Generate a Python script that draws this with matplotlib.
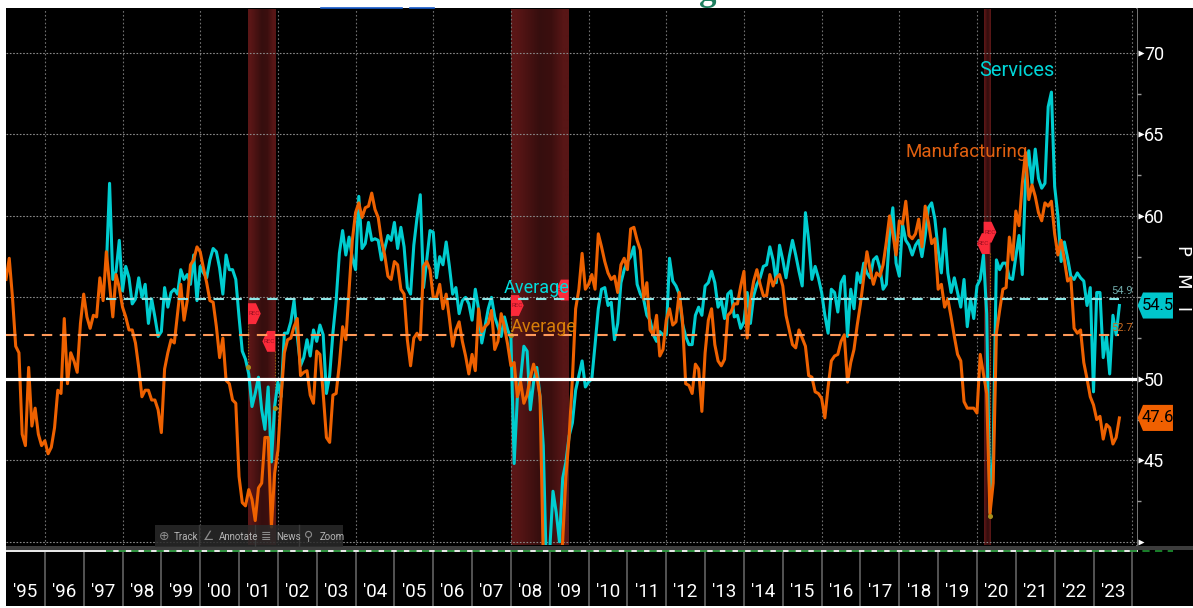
import numpy as np
import matplotlib
matplotlib.use('Agg')
import matplotlib.pyplot as plt
from matplotlib.patches import Polygon, Rectangle
from matplotlib.transforms import blended_transform_factory

plt.rcParams['font.family'] = ['Roboto', 'DejaVu Sans']

# monthly readings, month end, Jan 1995 - Aug 2023
mfg = [
    57.4, 55.0, 52.0, 51.6, 46.6, 45.9, 50.7, 47.1, 48.2, 46.6, 45.9, 46.2,  # 95
    45.4, 45.8, 47.0, 49.3, 49.1, 53.7, 49.7, 51.6, 51.1, 50.4, 53.4, 55.2,
    53.8, 53.1, 53.9, 53.8, 56.2, 54.8, 57.8, 55.8, 53.8, 56.4, 55.6, 54.4,
    53.8, 53.0, 53.0, 52.2, 50.7, 48.9, 49.3, 49.3, 48.7, 48.7, 48.1, 46.7,
    50.6, 51.6, 52.4, 52.2, 54.0, 55.8, 53.6, 54.8, 57.0, 57.3, 58.1, 57.8,
    56.8, 55.9, 54.8, 54.7, 53.2, 51.3, 52.5, 49.9, 49.7, 48.7, 48.5, 44.0,  # 00
    42.4, 42.2, 43.2, 42.6, 41.3, 43.3, 43.6, 46.4, 46.4, 40.9, 44.2, 45.6,
    48.9, 51.6, 52.4, 52.5, 53.2, 53.7, 50.2, 50.4, 50.5, 49.0, 48.5, 51.7,
    51.5, 49.1, 46.4, 46.1, 49.0, 49.1, 50.9, 53.2, 52.4, 55.4, 58.5, 60.2,
    60.8, 59.9, 60.5, 60.6, 61.4, 60.4, 59.9, 58.5, 57.6, 56.3, 56.1, 57.2,
    57.0, 55.5, 55.2, 52.4, 50.8, 52.5, 52.8, 52.4, 56.9, 57.2, 56.7, 55.0,  # 05
    55.0, 55.8, 54.3, 55.2, 53.7, 52.0, 53.0, 53.5, 52.3, 51.4, 50.3, 51.5,
    50.5, 54.3, 52.9, 53.2, 53.4, 54.2, 51.8, 52.3, 54.0, 53.2, 52.1, 50.8,
    51.0, 48.9, 49.8, 48.5, 49.0, 50.1, 50.9, 50.2, 48.9, 39.0, 37.5, 34.0,
    35.0, 36.0, 36.5, 40.1, 44.0, 46.5, 50.0, 54.3, 55.5, 57.7, 55.5, 55.8,
    56.4, 55.5, 58.9, 58.1, 57.2, 56.5, 56.1, 56.3, 55.3, 57.0, 57.4, 56.7,  # 10
    59.2, 59.3, 58.5, 57.9, 54.9, 55.9, 53.0, 52.7, 53.9, 51.4, 51.8, 53.6,
    54.3, 53.3, 53.5, 55.3, 53.6, 49.7, 49.6, 49.1, 50.9, 50.6, 48.0, 51.6,
    53.6, 54.3, 52.1, 51.1, 50.8, 51.2, 53.9, 54.1, 54.6, 54.6, 55.7, 56.6,
    52.5, 54.8, 56.0, 56.7, 55.8, 55.1, 55.1, 56.4, 55.7, 56.2, 56.4, 55.7,
    53.9, 53.0, 52.1, 51.9, 53.0, 52.5, 52.0, 50.2, 50.1, 49.2, 49.1, 48.8,  # 15
    47.6, 49.5, 51.1, 51.4, 51.5, 52.3, 52.7, 49.8, 51.0, 51.8, 53.3, 54.6,
    56.2, 57.8, 56.7, 55.8, 56.5, 56.3, 57.0, 58.4, 60.0, 58.9, 57.6, 59.7,
    59.5, 60.9, 58.8, 58.6, 58.9, 59.8, 58.1, 60.6, 59.6, 58.3, 58.6, 55.5,
    55.8, 54.4, 54.9, 53.8, 52.6, 51.5, 51.1, 48.6, 48.2, 48.2, 48.2, 47.9,
    51.5, 50.3, 49.1, 41.7, 43.6, 52.8, 54.2, 55.5, 55.6, 58.7, 57.3, 60.3,  # 20
    59.4, 62.0, 63.9, 61.0, 61.9, 61.2, 60.2, 59.7, 60.8, 60.6, 60.9, 58.9,
    57.6, 58.5, 57.3, 56.0, 56.2, 53.1, 52.8, 53.0, 51.0, 50.0, 48.9, 48.4,
    47.5, 47.7, 46.3, 47.2, 47.0, 46.0, 46.4, 47.6,
]
mfg_dec94 = 56.1

# services only starts Jul 1997
svc = [
    56.8, 62.0, 56.1, 56.6, 58.5, 55.4,
    56.9, 56.2, 54.6, 54.9, 56.2, 55.0, 55.8, 53.4, 54.9, 53.8, 52.6, 52.9,
    55.6, 54.4, 55.3, 55.5, 55.2, 56.7, 56.1, 56.4, 55.8, 57.6, 54.8, 56.9,
    56.5, 56.2, 57.3, 58.0, 57.8, 56.8, 55.2, 57.6, 56.7, 56.7, 56.1, 53.8,  # 00
    51.7, 51.2, 50.3, 48.3, 49.1, 50.1, 48.1, 46.9, 49.5, 44.9, 48.3, 49.8,
    48.9, 52.8, 52.8, 53.5, 54.8, 52.6, 50.8, 51.3, 52.4, 51.4, 53.0, 52.3,
    53.3, 52.7, 49.1, 50.2, 52.8, 54.8, 57.7, 59.1, 57.6, 58.7, 57.4, 56.7,
    61.2, 58.0, 58.3, 59.6, 58.5, 58.6, 58.5, 57.3, 58.0, 58.8, 58.5, 59.6,
    58.0, 59.3, 58.1, 55.6, 55.2, 58.2, 59.9, 61.3, 55.6, 57.3, 59.1, 59.0,  # 05
    56.2, 57.5, 57.0, 58.4, 56.9, 55.2, 55.6, 54.0, 54.8, 55.0, 54.6, 53.6,
    55.5, 54.3, 52.2, 53.2, 54.3, 55.0, 53.8, 53.2, 52.6, 53.8, 53.0, 52.5,
    44.8, 48.9, 50.0, 52.0, 51.7, 48.1, 49.8, 50.7, 48.9, 45.9, 38.0, 39.5,
    43.1, 41.8, 40.0, 43.9, 44.9, 46.5, 47.3, 49.3, 50.2, 51.1, 49.5, 49.8,
    50.0, 52.1, 54.3, 55.5, 55.6, 54.5, 54.7, 52.4, 53.4, 55.9, 56.7, 57.2,  # 10
    57.5, 58.1, 55.8, 55.2, 54.9, 53.9, 53.6, 52.7, 52.3, 52.9, 52.7, 52.7,
    57.4, 56.0, 55.7, 55.2, 53.4, 52.6, 52.1, 52.1, 53.9, 54.4, 53.9, 55.7,
    55.9, 56.6, 55.9, 54.4, 54.8, 53.7, 55.2, 55.4, 53.8, 53.9, 53.1, 53.5,
    55.3, 53.4, 55.1, 55.8, 56.2, 56.9, 57.0, 58.1, 57.3, 55.9, 58.2, 57.3,
    56.2, 57.5, 58.5, 57.6, 56.6, 55.7, 60.2, 58.5, 56.1, 56.9, 56.2, 55.3,  # 15
    53.9, 52.8, 55.5, 55.3, 54.1, 55.9, 56.3, 52.6, 55.5, 54.3, 56.5, 55.9,
    57.1, 56.5, 56.2, 57.3, 57.5, 56.8, 55.5, 55.8, 58.9, 60.5, 57.1, 56.3,
    59.5, 58.5, 58.2, 57.6, 58.2, 58.5, 57.5, 58.8, 60.5, 60.8, 59.8, 57.9,
    56.5, 59.2, 56.5, 55.3, 56.2, 55.3, 54.4, 56.1, 53.2, 54.9, 53.7, 55.7,
    56.1, 57.6, 54.0, 41.8, 45.4, 57.3, 56.7, 57.1, 57.1, 56.2, 56.1, 57.5,  # 20
    58.8, 56.4, 62.2, 64.0, 62.0, 64.1, 62.3, 61.7, 62.0, 66.7, 67.6, 61.8,
    60.0, 57.2, 58.4, 57.4, 56.3, 56.1, 56.5, 56.2, 56.0, 54.5, 55.6, 49.2,
    55.3, 55.3, 51.3, 52.6, 50.3, 53.9, 52.7, 54.5,
]

mfg_avg = 52.7
svc_avg = 54.9
year_labels = ["'95", "'96", "'97", "'98", "'99", "'00", "'01", "'02", "'03", "'04",
               "'05", "'06", "'07", "'08", "'09", "'10", "'11", "'12", "'13", "'14",
               "'15", "'16", "'17", "'18", "'19", "'20", "'21", "'22", "'23"]
recessions = [(2001.23, 2001.93), (2008.0, 2009.49), (2020.17, 2020.33)]
y_labels = [45, 50, 60, 65, 70]

TEAL = '#00cdd0'
ORANGE = '#ee6100'
W, H = 1193, 608


def px_box(x0, y0, x1, y1):
    return [x0 / W, 1 - y1 / H, (x1 - x0) / W, (y1 - y0) / H]


fig = plt.figure(figsize=(W / 100, H / 100), dpi=100, facecolor='white')

# title is cut off by the terminal screenshot, only its bottom shows
fig.text(602 / W, 1.0, 'Services and Manufacturing PMI Indices', color='#1f7f5f',
         fontsize=25, fontweight='bold', family='Liberation Serif', ha='center',
         va='baseline', zorder=-1)

# black panel, pixel coordinates
bg = fig.add_axes([0, 0, 1, 1], zorder=0)
bg.set_xlim(0, W)
bg.set_ylim(H, 0)
bg.axis('off')
bg.add_patch(Rectangle((6, 8), W - 6, 598, fc='black', ec='none'))
bg.add_patch(Rectangle((6, 545.5), W - 6, 4.5, fc='#3d3d3d', ec='none'))
bg.plot([6, 1137], [551.2, 551.2], color='white', lw=1.3)
bg.plot([106, 1173], [550.6, 550.6], color='#1c8a2e', lw=1.3, ls=(0, (4, 3)))
bg.plot([1137, 1137], [9, 545], color='#8a8a8a', lw=1.2)
# spell check squiggle from the pasted title
bg.plot([321, 402], [7.6, 7.6], color='#1358c8', lw=1.2)
bg.plot([410, 434], [7.6, 7.6], color='#1358c8', lw=1.2)

# main panel
ax = fig.add_axes(px_box(6, 9, 1137, 545), zorder=1, facecolor='black')
x0, x1 = 1995.0, 2024.12
y0, y1 = 39.8, 72.7
xt = 1995 + (np.arange(len(mfg) + 1)) / 12.0
x_mfg = xt
y_mfg = [mfg_dec94] + mfg
x_svc = xt[-len(svc):]

for s in ax.spines.values():
    s.set_visible(False)

# recession shading, darker down the middle
shade = np.array([[90, 22, 22], [72, 18, 18], [54, 14, 14], [60, 15, 15], [88, 22, 22]]) / 255.0
for a, b in recessions:
    ax.imshow(shade[np.newaxis, :, :], extent=(a, b, y0, y1), aspect='auto',
              interpolation='bilinear', zorder=1)

ax.set_xlim(x0, x1)
ax.set_ylim(y0, y1)

for yr in range(1996, 2025, 2):
    ax.axvline(yr, color='#707070', lw=0.8, ls=(0, (1.5, 2)), zorder=1.5)
for v in [40, 45, 55, 60, 65, 70]:
    ax.axhline(v, color='#8a8a8a', lw=0.8, ls=(0, (1.5, 1.5)), zorder=1.5)
ax.axhline(50, color='white', lw=2.3, zorder=4.6)

ax.plot(x_svc, svc, color=TEAL, lw=2.2, zorder=3)
ax.plot(x_mfg, y_mfg, color=ORANGE, lw=2.2, zorder=3.2)

ax.plot([x_svc[0], x_svc[-1]], [svc_avg, svc_avg], color='#8ce6e6', lw=1.5,
        ls=(0, (5, 3.6)), zorder=4.5)
ax.plot([x0, x_mfg[-1]], [mfg_avg, mfg_avg], color='#ff9a5a', lw=1.5,
        ls=(0, (5, 3.6)), zorder=4.5)


def rec_tag(xa, yc, side):
    w, h = 0.33, 1.28
    d = 1 if side == 'right' else -1
    pts = [(xa, yc - h / 2), (xa + d * 0.62 * w, yc - h / 2), (xa + d * w, yc),
           (xa + d * 0.62 * w, yc + h / 2), (xa, yc + h / 2)]
    ax.add_patch(Polygon(pts, closed=True, fc='#fb2a3a', ec='none', zorder=4))
    ax.text(xa + d * 0.16, yc, 'REC', color='#9c1020', fontsize=4.5, ha='center',
            va='center', zorder=4.2)


rec_tag(2001.23, 54.0, 'right')
rec_tag(2001.93, 52.3, 'left')
rec_tag(2008.0, 54.5, 'right')
rec_tag(2009.49, 55.45, 'left')
rec_tag(2020.33, 58.3, 'left')
rec_tag(2020.17, 59.0, 'right')

# stems from the tags down to the line
stems = [(2001.23, 53.4, 50.7), (2001.93, 51.7, 48.2), (2008.0, 53.9, 52.7), (2020.33, 57.7, 41.6)]
for xs, ya, yb in stems:
    ax.plot([xs, xs], [ya, yb], color='#9a7010', lw=0.8, ls=':', zorder=2.5)
    ax.plot([xs], [yb], 'o', ms=2.6, color='#a8901c', zorder=3.5)

ax.text(2020.07, 68.9, 'Services', color='#00d6d8', fontsize=14.5, zorder=6, va='center')
ax.text(2018.17, 63.9, 'Manufacturing', color='#e06010', fontsize=13.5, zorder=6, va='center')
ax.text(2007.82, 55.6, 'Average', color='#00dcdc', fontsize=13, zorder=6, va='center')
ax.text(2008.0, 53.2, 'Average', color='#d87e08', fontsize=13, zorder=6, va='center')

# right axis
ax.yaxis.tick_right()
ax.set_yticks(y_labels)
ax.set_yticklabels([str(v) for v in y_labels], color='white', fontsize=13)
ax.set_yticks([42.5, 47.5, 52.5, 55, 57.5, 62.5, 67.5], minor=True)
ax.tick_params(axis='y', which='major', length=0, pad=5)
ax.tick_params(axis='y', which='minor', length=3, width=1, color='#9a9a9a', right=True)
ax.set_xticks([])

tr = blended_transform_factory(ax.transAxes, ax.transData)
for v in [40, 45, 50, 60, 65, 70]:
    ax.plot([1.0035], [v], marker='>', ms=4.5, color='white', mec='none', transform=tr,
            clip_on=False, zorder=5)

ax.text(0.977, svc_avg + 0.47, '54.9', color='#6fa8a8', fontsize=8, zorder=6,
        transform=tr, ha='left', va='center')
ax.text(0.977, mfg_avg + 0.4, '52.7', color='#c86a20', fontsize=8, zorder=6,
        transform=tr, ha='left', va='center')


def value_box(val, col):
    a, b, tip = 1.0018, 1.0318, 1.0005
    hh = 0.8
    pts = [(tip, val), (a + 0.0035, val + hh), (b, val + hh), (b, val - hh), (a + 0.0035, val - hh)]
    ax.add_patch(Polygon(pts, closed=True, fc=col, ec='none', transform=tr, clip_on=False, zorder=7))
    ax.text((a + b) / 2 + 0.002, val, '%.1f' % val, color='black', fontsize=12, ha='center',
            va='center', transform=tr, clip_on=False, zorder=8)


value_box(svc[-1], '#00c6cc')
value_box(mfg[-1], '#f06000')

fig.text(1183 / W, 1 - 278 / H, 'P   M   I', color='white', fontsize=13, rotation=270,
         ha='center', va='center', family='DejaVu Sans', zorder=5)

# year strip
ax_y = fig.add_axes(px_box(6, 552, 1137, 606), zorder=1, facecolor='black')
ax_y.set_xlim(x0, x1)
ax_y.set_ylim(0, 1)
ax_y.axis('off')
ax_y.vlines(np.arange(1996, 2025), 0.0, 1.0, color='#6a6a6a', lw=1.1)
for i, lab in enumerate(year_labels):
    ax_y.text(1995.5 + i, 0.26, lab, color='white', fontsize=13.5, ha='center', va='center')

# bloomberg hover toolbar
ov = fig.add_axes([0, 0, 1, 1], zorder=5)
ov.set_xlim(0, W)
ov.set_ylim(H, 0)
ov.axis('off')
ov.add_patch(Rectangle((155, 525), 188, 22, fc='#2a2a2a', ec='none', alpha=0.85))
for xs in [199, 255, 299]:
    ov.plot([xs, xs], [525, 547], color='#3a3a3a', lw=1)
tools = [(164, '\u2295', 174, 'Track'), (209, '\u2220', 219, 'Annotate'),
         (266, '\u2263', 276, 'News'), (309, '\u26b2', 320, 'Zoom')]
for xi, glyph, xl, name in tools:
    ov.text(xi, 537, glyph, color='#8a8a8a', fontsize=9, family='DejaVu Sans',
            ha='center', va='center')
    ov.text(xl, 537, name, color='#b5b5b5', fontsize=7, ha='left', va='center')

fig.savefig('out.png', dpi=100, facecolor='white')
